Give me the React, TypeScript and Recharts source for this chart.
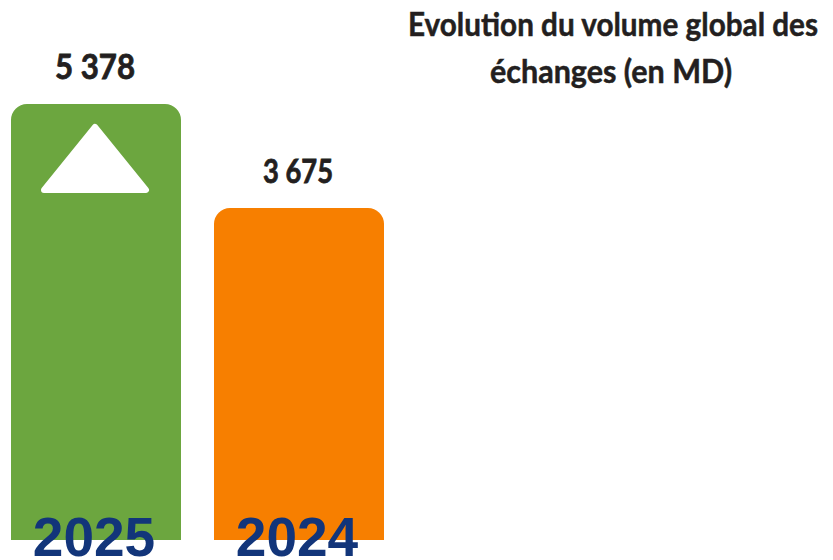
import { BarChart, Bar, XAxis, YAxis, Rectangle, LabelList } from 'recharts'

// ---- data ----
const years = ['2025', '2024']
const volumes = [5378, 3675]
const barColors = ['#6CA63F', '#F77F00']
const titleLines = ['Evolution du volume global des', 'échanges (en MD)']

const data = years.map((year, i) => ({ year, volume: volumes[i] }))

// styling only
const valueFontSizes = [34, 33]
const valueWidths = [80, 70]

const fmt = (v: number) => v.toLocaleString('fr-FR').replace(/\u202f|\u00a0/g, ' ')

const BarShape = (props: any) => {
  const { x, y, width, height, index } = props
  // up-arrow when the volume grew versus the previous year
  const grows = index < volumes.length - 1 && volumes[index] > volumes[index + 1]
  const cx = x + width / 2 - 1
  return (
    <g>
      <Rectangle x={x} y={y} width={width} height={height} radius={[16, 16, 0, 0]} fill={barColors[index]} />
      {grows && (
        <path
          d={`M${cx},${y + 23} L${cx + 51},${y + 86} L${cx - 51},${y + 86} Z`}
          fill="#fff"
          stroke="#fff"
          strokeWidth={6}
          strokeLinejoin="round"
        />
      )}
    </g>
  )
}

const ValueLabel = (props: any) => {
  const { x, y, width, value, index } = props
  return (
    <text
      x={x + width / 2 - 1}
      y={y - 25}
      textAnchor="middle"
      fontFamily="Lato, sans-serif"
      fontWeight={700}
      fontSize={valueFontSizes[index]}
      fill="#231F20"
      stroke="#231F20"
      strokeWidth={0.8}
      textLength={valueWidths[index]}
      lengthAdjust="spacingAndGlyphs"
    >
      {fmt(value)}
    </text>
  )
}

const YearLabel = (props: any) => {
  const { x, y, width, height, value } = props
  return (
    <text
      x={x + width / 2 - 2}
      y={y + height + 16}
      textAnchor="middle"
      fontFamily="'Liberation Sans', Arial, sans-serif"
      fontWeight={700}
      fontSize={55}
      fill="#12357A"
    >
      {value}
    </text>
  )
}

export default function App() {
  return (
    <div style={{ position: 'absolute', left: 0, top: 0, width: 833, height: 560, background: '#fff', overflow: 'hidden' }}>
      <BarChart width={833} height={560} data={data} margin={{ top: 0, right: 433, left: -6, bottom: 20 }}>
        <XAxis dataKey="year" hide />
        <YAxis hide scale="log" type="number" domain={[1090, 7868]} allowDataOverflow />
        <Bar dataKey="volume" barSize={170} shape={<BarShape />} isAnimationActive={false}>
          <LabelList dataKey="volume" content={<ValueLabel />} />
          <LabelList dataKey="year" content={<YearLabel />} />
        </Bar>
      </BarChart>
      <svg width={833} height={110} style={{ position: 'absolute', left: 0, top: 0 }}>
        <text x={613} y={36} textAnchor="middle" fontFamily="Lato, sans-serif" fontWeight={700} fontSize={32}
          fill="#231F20" stroke="#231F20" strokeWidth={0.5} textLength={410} lengthAdjust="spacingAndGlyphs">
          {titleLines[0]}
        </text>
        <text x={611} y={83} textAnchor="middle" fontFamily="Lato, sans-serif" fontWeight={700} fontSize={32}
          fill="#231F20" stroke="#231F20" strokeWidth={0.5} textLength={242} lengthAdjust="spacingAndGlyphs">
          {titleLines[1]}
        </text>
      </svg>
    </div>
  )
}
